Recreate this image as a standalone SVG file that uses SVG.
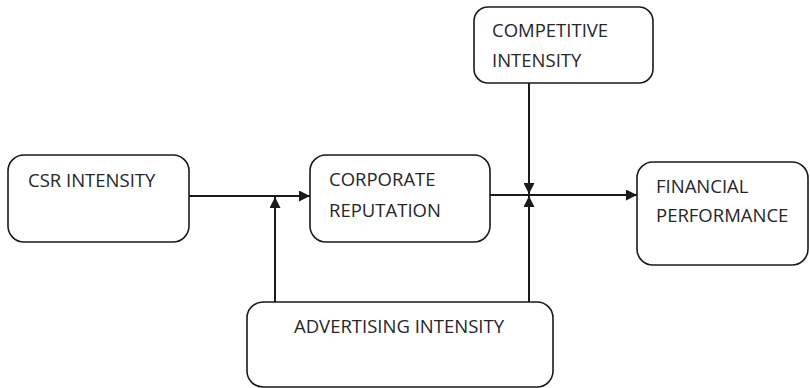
<svg xmlns="http://www.w3.org/2000/svg" width="810" height="388" viewBox="0 0 810 388">
<defs>
<marker id="arr" viewBox="0 0 11 11" refX="11" refY="5.5" markerWidth="11" markerHeight="11" markerUnits="userSpaceOnUse" orient="auto">
<path d="M0,0 L11,5.5 L0,11 Z" fill="#1a1a1a"/>
</marker>
</defs>
<style>
.box{fill:#fff;stroke:#1a1a1a;stroke-width:1.6}
.lbl{font-family:"Open Sans","Liberation Sans",sans-serif;font-size:18.5px;fill:#262626}
.ln{fill:none;stroke:#1a1a1a;stroke-width:2}
</style>
<rect width="810" height="388" fill="#fff"/>
<g id="connectors">
<line class="ln" x1="189" y1="196" x2="310" y2="196" marker-end="url(#arr)"/>
<line class="ln" x1="275" y1="302" x2="275" y2="197" marker-end="url(#arr)"/>
<line class="ln" x1="490" y1="195" x2="637" y2="195" marker-end="url(#arr)"/>
<line class="ln" x1="529" y1="83" x2="529" y2="194" marker-end="url(#arr)"/>
<line class="ln" x1="529" y1="302" x2="529" y2="196" marker-end="url(#arr)"/>
</g>
<g id="csr">
<rect class="box" x="8" y="155" width="181" height="87" rx="16"/>
<text class="lbl" x="28" y="187">CSR INTENSITY</text>
</g>
<g id="corporate">
<rect class="box" x="310" y="155" width="180" height="87" rx="16"/>
<text class="lbl" x="329" y="186">CORPORATE</text>
<text class="lbl" x="329" y="217">REPUTATION</text>
</g>
<g id="competitive">
<rect class="box" x="474" y="7" width="179" height="76" rx="14"/>
<text class="lbl" x="492" y="37">COMPETITIVE</text>
<text class="lbl" x="492" y="67">INTENSITY</text>
</g>
<g id="financial">
<rect class="box" x="637" y="162" width="171" height="103" rx="16"/>
<text class="lbl" x="656" y="193">FINANCIAL</text>
<text class="lbl" x="656" y="222">PERFORMANCE</text>
</g>
<g id="advertising">
<rect class="box" x="247" y="302" width="306" height="85" rx="16"/>
<text class="lbl" x="294" y="333">ADVERTISING INTENSITY</text>
</g>
</svg>
